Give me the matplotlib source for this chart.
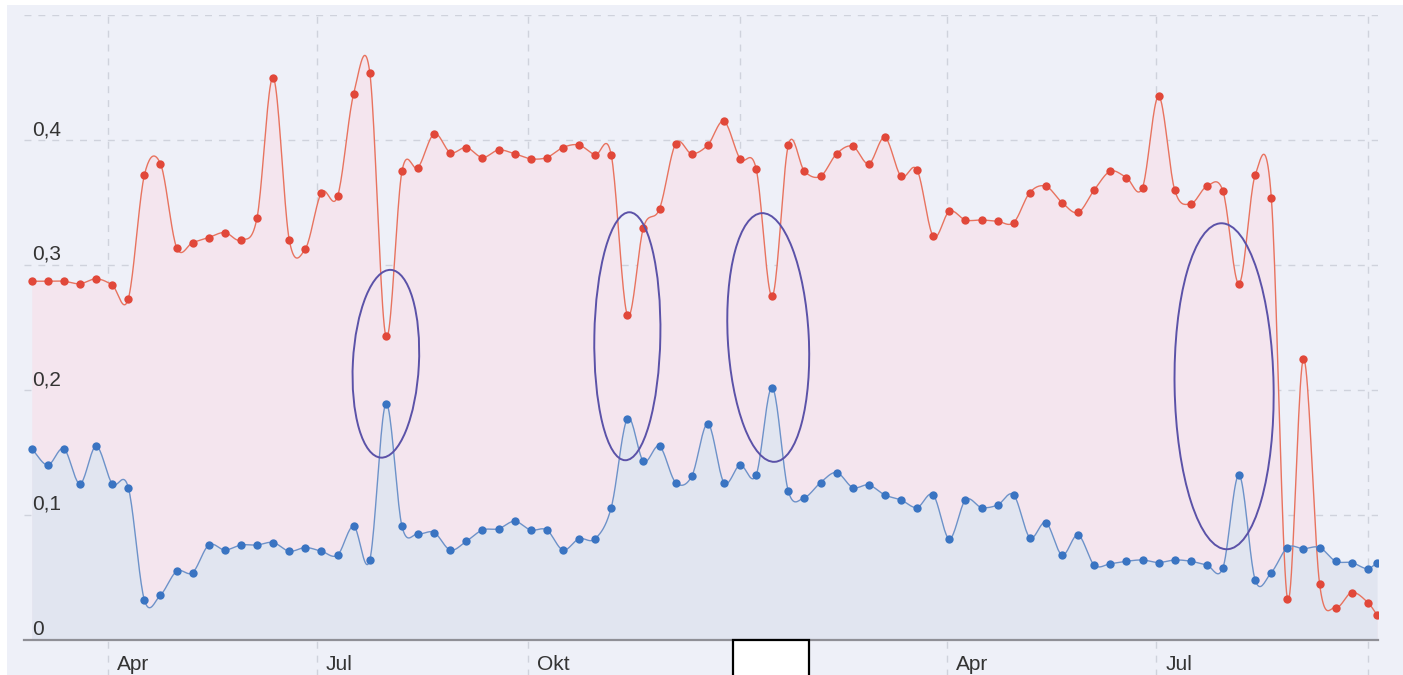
import numpy as np
import pandas as pd
import matplotlib
matplotlib.use("Agg")
import matplotlib.pyplot as plt
import matplotlib.dates as mdates
from matplotlib.patches import Ellipse, Rectangle
from matplotlib.transforms import ScaledTranslation, Affine2D

plt.rcParams['font.family'] = ['Liberation Sans', 'DejaVu Sans']

# ---------------- data ----------------
weeks = list(pd.date_range('2005-02-27', periods=84, freq='7D')) + [pd.Timestamp('2006-10-05')]

red = [0.287, 0.287, 0.287, 0.285, 0.289, 0.284, 0.273, 0.372, 0.381, 0.314,
       0.318, 0.322, 0.326, 0.320, 0.338, 0.450, 0.320, 0.313, 0.358, 0.355,
       0.437, 0.454, 0.243, 0.375, 0.378, 0.405, 0.390, 0.394, 0.386, 0.392,
       0.389, 0.385, 0.386, 0.394, 0.396, 0.388, 0.388, 0.260, 0.330, 0.345,
       0.397, 0.389, 0.396, 0.415, 0.385, 0.377, 0.275, 0.396, 0.375, 0.371,
       0.389, 0.395, 0.381, 0.402, 0.371, 0.376, 0.323, 0.343, 0.336, 0.336,
       0.335, 0.334, 0.358, 0.363, 0.350, 0.342, 0.360, 0.375, 0.370, 0.362,
       0.435, 0.360, 0.349, 0.363, 0.359, 0.285, 0.372, 0.354, 0.033, 0.225,
       0.045, 0.026, 0.038, 0.030, 0.020]

blue = [0.153, 0.140, 0.153, 0.125, 0.155, 0.125, 0.122, 0.032, 0.036, 0.055,
        0.054, 0.076, 0.072, 0.076, 0.076, 0.078, 0.071, 0.074, 0.071, 0.068,
        0.091, 0.064, 0.189, 0.091, 0.085, 0.086, 0.072, 0.079, 0.088, 0.089,
        0.095, 0.088, 0.088, 0.072, 0.081, 0.081, 0.106, 0.177, 0.143, 0.155,
        0.126, 0.131, 0.173, 0.126, 0.140, 0.132, 0.202, 0.119, 0.114, 0.126,
        0.134, 0.122, 0.124, 0.116, 0.112, 0.106, 0.116, 0.081, 0.112, 0.106,
        0.108, 0.116, 0.082, 0.094, 0.068, 0.084, 0.060, 0.061, 0.063, 0.064,
        0.062, 0.064, 0.063, 0.060, 0.058, 0.132, 0.048, 0.054, 0.074, 0.073,
        0.074, 0.063, 0.062, 0.057, 0.062]

y_ticks = [0.0, 0.1, 0.2, 0.3, 0.4]
y_labels = ['0', '0,1', '0,2', '0,3', '0,4']
month_starts = pd.to_datetime(['2005-04-01', '2005-07-01', '2005-10-01', '2006-01-01',
                               '2006-04-01', '2006-07-01', '2006-10-01'])
month_labels = ['Apr', 'Jul', 'Okt', '', 'Apr', 'Jul', '']
circled = [22, 37, 46, 75]   # indices of the hand-circled weeks

# ---------------- helpers ----------------
def smooth(x, y, n=20):
    x = np.asarray(x, float)
    y = np.asarray(y, float)
    m = np.empty_like(y)
    m[1:-1] = (y[2:] - y[:-2]) / (x[2:] - x[:-2])
    m[0] = (y[1] - y[0]) / (x[1] - x[0])
    m[-1] = (y[-1] - y[-2]) / (x[-1] - x[-2])
    xs, ys = [], []
    t = np.linspace(0, 1, n, endpoint=False)
    h00 = 2 * t**3 - 3 * t**2 + 1
    h10 = t**3 - 2 * t**2 + t
    h01 = -2 * t**3 + 3 * t**2
    h11 = t**3 - t**2
    for i in range(len(x) - 1):
        h = x[i + 1] - x[i]
        xs.append(x[i] + t * h)
        ys.append(h00 * y[i] + h10 * h * m[i] + h01 * y[i + 1] + h11 * h * m[i + 1])
    xs.append([x[-1]])
    ys.append([y[-1]])
    return np.concatenate(xs), np.concatenate(ys)

# ---------------- figure ----------------
W, H = 1403, 675
fig = plt.figure(figsize=(W / 100, H / 100), dpi=100)
fig.patch.set_facecolor('white')
bg = '#eef0f8'
fig.patches.append(Rectangle((7 / W, 0), 1 - 7 / W, (H - 5) / H, transform=fig.transFigure,
                             facecolor=bg, edgecolor='none', zorder=-10))

ax = fig.add_axes([24 / W, 35 / H, 1354 / W, 625 / H])
ax.set_facecolor('none')
for s in ax.spines.values():
    s.set_visible(False)

x = mdates.date2num(weeks)
ax.set_xlim(x[0] - 3.35, x[-1] + 0.4)
ax.set_ylim(0, 0.5)
ax.set_xticks([])
ax.set_yticks([])

# gridlines
grid_c = '#cfd2dc'
for v in y_ticks[1:] + [0.5]:
    ax.axhline(v, color=grid_c, lw=1.0, ls=(0, (5, 5)), zorder=0.5)
for d in mdates.date2num(month_starts):
    ax.axvline(d, ymin=-0.06, ymax=1.0, color=grid_c, lw=1.0, ls=(0, (5, 5)),
               zorder=0.5, clip_on=False)

# areas + lines
xr, yr = smooth(x, red)
xb, yb = smooth(x, blue)
ax.fill_between(xr, yr, 0, color='#f4e5ee', lw=0, zorder=1)
ax.fill_between(xb, yb, 0, color='#e1e5f0', lw=0, zorder=1.1)
ax.plot(xr, yr, color='#e8735f', lw=1.0, zorder=2)
ax.plot(xb, yb, color='#6d92c9', lw=1.0, zorder=2)
ax.plot(x, red, 'o', color='#e1483a', ms=6, mec='none', zorder=3)
ax.plot(x, blue, 'o', color='#3a74c2', ms=6, mec='none', zorder=3)

# baseline
ax.axhline(0, color='#8f8f96', lw=1.6, zorder=4, clip_on=False)

# y labels inside plot
for v, lbl in zip(y_ticks, y_labels):
    ax.annotate(lbl, xy=(0, v), xycoords=('axes fraction', 'data'),
                xytext=(8 * 0.72, 5 * 0.72), textcoords='offset points',
                ha='left', va='baseline', fontsize=15, color='#333333')

# month labels
for d, lbl in zip(mdates.date2num(month_starts), month_labels):
    if lbl:
        ax.annotate(lbl, xy=(d, 0), xycoords=('data', 'axes fraction'),
                    xytext=(9 * 0.72, -15 * 0.72), textcoords='offset points',
                    ha='left', va='top', fontsize=15, color='#333333',
                    annotation_clip=False)

# hand-drawn circles (pixel sizes, anchored on circled weeks)
ell_specs = [  # (dx_px, y_center, width_px, height_px, angle)
    (0, 0.221, 66, 188, -3),
    (0, 0.243, 66, 248, -1),
    (-4, 0.242, 81, 249, 3),
    (-15, 0.203, 99, 326, 1),
]
for idx, (dx, yc, w, h, ang) in zip(circled, ell_specs):
    tr = Affine2D().translate(dx, 0) + ScaledTranslation(x[idx], yc, ax.transData)
    e = Ellipse((0, 0), w, h, angle=ang, transform=tr, fill=False,
                edgecolor='#5b52a8', lw=1.4, zorder=6, clip_on=False)
    ax.add_artist(e)

# white box at the bottom
fig.patches.append(Rectangle((733 / W, -2 / H), 76 / W, 37 / H, transform=fig.transFigure,
                             facecolor='white', edgecolor='black', lw=1.6, zorder=10))

fig.savefig('out.png', dpi=100)
